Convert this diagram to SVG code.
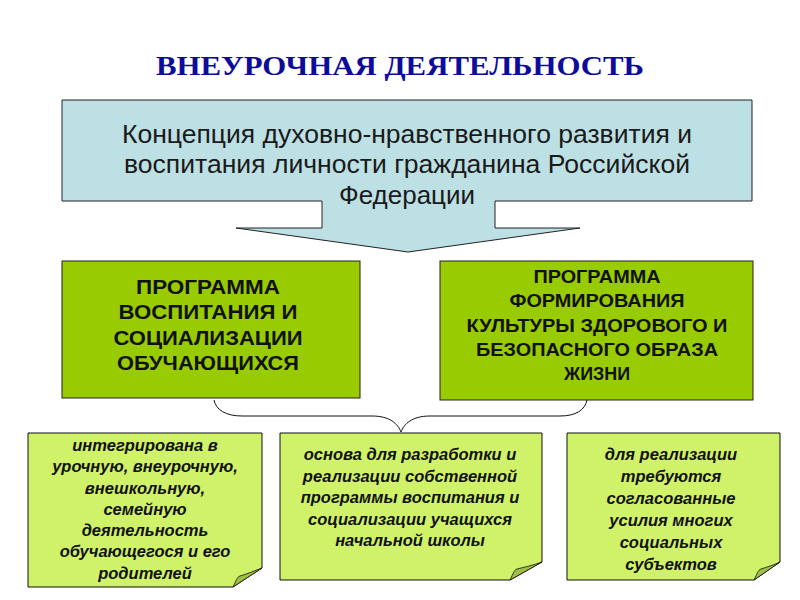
<svg xmlns="http://www.w3.org/2000/svg" width="800" height="600" viewBox="0 0 800 600">
<style>
.title{font-family:"Liberation Serif","Times New Roman",serif;font-weight:bold;font-size:27px;fill:#0c0c99;text-anchor:middle}
.concept{font-family:"Liberation Sans",Arial,sans-serif;font-size:25px;fill:#1a1a1a;text-anchor:middle}
.prog{font-family:"Liberation Sans",Arial,sans-serif;font-weight:bold;fill:#111;text-anchor:middle}
.note{font-family:"Liberation Sans",Arial,sans-serif;font-weight:bold;font-style:italic;font-size:16.5px;fill:#111;text-anchor:middle}
.box{stroke:#222;stroke-width:1}
.green{fill:#99cc00}
.paper{fill:#d0f268;stroke:#111;stroke-width:1}
.fold{fill:#9fbf45;stroke:#111;stroke-width:0.8}
.conn{fill:none;stroke:#111;stroke-width:1}
</style>
<rect width="800" height="600" fill="#ffffff"/>
<g id="title">
<text class="title" x="400" y="75" textLength="488" lengthAdjust="spacingAndGlyphs">ВНЕУРОЧНАЯ ДЕЯТЕЛЬНОСТЬ</text>
</g>
<g id="concept">
<path class="box" fill="#bde0e4" d="M62,100 H752 V201 H495 V228 H580 L408,252 L236,228 H322 V201 H62 Z"/>
<text class="concept" x="407" y="143" textLength="570" lengthAdjust="spacingAndGlyphs">Концепция духовно-нравственного развития и</text>
<text class="concept" x="407" y="173" textLength="566" lengthAdjust="spacingAndGlyphs">воспитания личности гражданина Российской</text>
<text class="concept" x="407" y="204" textLength="136" lengthAdjust="spacingAndGlyphs">Федерации</text>
</g>
<g id="prog1">
<rect class="box green" x="62" y="261" width="298" height="137"/>
<text class="prog" font-size="20" x="208" y="294" textLength="144" lengthAdjust="spacingAndGlyphs">ПРОГРАММА</text>
<text class="prog" font-size="20" x="208" y="319" textLength="179" lengthAdjust="spacingAndGlyphs">ВОСПИТАНИЯ И</text>
<text class="prog" font-size="20" x="208" y="345" textLength="189" lengthAdjust="spacingAndGlyphs">СОЦИАЛИЗАЦИИ</text>
<text class="prog" font-size="20" x="208" y="370" textLength="182" lengthAdjust="spacingAndGlyphs">ОБУЧАЮЩИХСЯ</text>
</g>
<g id="prog2">
<rect class="box green" x="440" y="261" width="313" height="139"/>
<text class="prog" font-size="18" x="597" y="283" textLength="127" lengthAdjust="spacingAndGlyphs">ПРОГРАММА</text>
<text class="prog" font-size="18" x="597" y="307" textLength="175" lengthAdjust="spacingAndGlyphs">ФОРМИРОВАНИЯ</text>
<text class="prog" font-size="18" x="597" y="332" textLength="261" lengthAdjust="spacingAndGlyphs">КУЛЬТУРЫ ЗДОРОВОГО И</text>
<text class="prog" font-size="18" x="597" y="356" textLength="242" lengthAdjust="spacingAndGlyphs">БЕЗОПАСНОГО ОБРАЗА</text>
<text class="prog" font-size="18" x="597" y="380" textLength="66" lengthAdjust="spacingAndGlyphs">ЖИЗНИ</text>
</g>
<g id="connectors">
<path class="conn" d="M214,400 C216,410 226,416 242,416 H372 C390,416 398,424 401,432 C404,424 412,416 430,416 H560 C576,416 585,410 587,400"/>
</g>
<g id="note1">
<path class="paper" d="M28,433 H262 V568 L233,587 H28 Z"/>
<path class="fold" d="M233,587 C236,581 237,577 240,576 C247,574 254,571 262,568 Z"/>
<text class="note" x="145" y="451">интегрирована в</text>
<text class="note" x="145" y="472">урочную, внеурочную,</text>
<text class="note" x="145" y="494">внешкольную,</text>
<text class="note" x="145" y="515">семейную</text>
<text class="note" x="145" y="536">деятельность</text>
<text class="note" x="145" y="557">обучающегося и его</text>
<text class="note" x="145" y="579">родителей</text>
</g>
<g id="note2">
<path class="paper" d="M280,433 H542 V562 L510,580 H280 Z"/>
<path class="fold" d="M510,580 C513,574 514,570 517,569 C525,567 534,565 542,562 Z"/>
<text class="note" x="410" y="460">основа для разработки и</text>
<text class="note" x="410" y="482">реализации собственной</text>
<text class="note" x="410" y="503">программы воспитания и</text>
<text class="note" x="410" y="525">социализации учащихся</text>
<text class="note" x="410" y="546">начальной школы</text>
</g>
<g id="note3">
<path class="paper" d="M567,433 H780 V562 L754,580 H567 Z"/>
<path class="fold" d="M754,580 C757,574 758,570 761,569 C767,567 774,565 780,562 Z"/>
<text class="note" x="671" y="460">для реализации</text>
<text class="note" x="671" y="482">требуются</text>
<text class="note" x="671" y="504">согласованные</text>
<text class="note" x="671" y="526">усилия многих</text>
<text class="note" x="671" y="548">социальных</text>
<text class="note" x="671" y="570">субъектов</text>
</g>
</svg>
